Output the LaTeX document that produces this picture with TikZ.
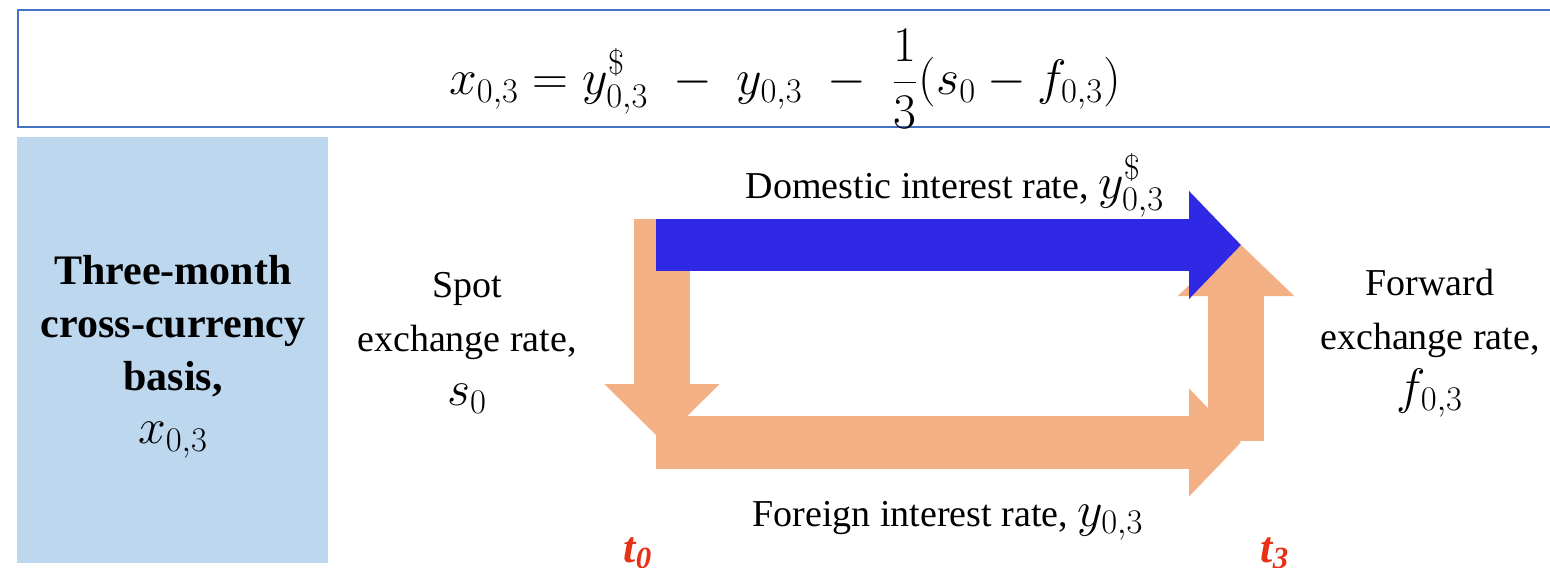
\documentclass[tikz,border=0pt]{standalone}
\usepackage{fontspec}
\setmainfont{Liberation Serif}
\usetikzlibrary{arrows.meta}
\definecolor{framebl}{RGB}{68,114,196}
\definecolor{boxbl}{RGB}{189,215,238}
\definecolor{peach}{RGB}{243,176,133}
\definecolor{deepbl}{RGB}{47,41,230}
\definecolor{tred}{RGB}{232,48,20}
\newcommand{\lmath}[1]{{\fontsize{24}{27}\selectfont$#1$}}
\newcommand{\bmath}[1]{{\fontsize{24}{26.5}\selectfont$#1$}}
\tikzset{
  lbl/.style={align=center, font=\fontsize{19}{27}\selectfont, inner sep=0pt},
  boldlbl/.style={align=center, font=\fontsize{21}{26.5}\selectfont\bfseries, inner sep=0pt},
  peacharrow/.style={draw=peach, line width=#1},
  bluearrow/.style={draw=deepbl, line width=#1},
  tlabel/.style={text=tred, font=\fontsize{22}{26}\selectfont\bfseries\itshape, inner sep=0pt, anchor=base}
}
\begin{document}
\begin{tikzpicture}[x=0.5pt,y=-0.5pt]
\useasboundingbox (0,0) rectangle (1550,567);
% formula box
\draw[framebl, line width=1.2pt] (1560,10) -- (18,10) -- (18,127) -- (1560,127);
\node (formula) at (785,79) {\fontsize{25}{30}\selectfont $\displaystyle x_{0,3} = y^{\$}_{0,3} \;-\; y_{0,3} \;-\; \frac{1}{3}(s_0 - f_{0,3})$};
% left box
\path[fill=boxbl] (17,137) rectangle (328,563);
\node[boldlbl] (basis) at (173,357) {Three-month\\cross-currency\\basis,\\\bmath{x_{0,3}}};
% arrows
\coordinate (Ltop) at (662,219);
\coordinate (Lbot) at (662,441);
\coordinate (Bstart) at (656,442.5);
\coordinate (Bend) at (1241,442.5);
\coordinate (Ubot) at (1236,441);
\coordinate (Utop) at (1236,240);
\coordinate (Dstart) at (656,245);
\coordinate (Dend) at (1241,245);
\draw[peacharrow=28pt, -{Triangle[length=28.5pt,width=56pt]}] (Ltop) -- (Lbot);
\draw[peacharrow=26.5pt, -{Triangle[length=26pt,width=52.5pt]}] (Bstart) -- (Bend);
\draw[peacharrow=28pt, -{Triangle[length=28pt,width=56.5pt]}] (Ubot) -- (Utop);
\draw[bluearrow=26pt, -{Triangle[length=26pt,width=52.5pt]}] (Dstart) -- (Dend);
% labels
\node[lbl] (spot) at (467,343) {Spot\\exchange rate,\\\lmath{s_0}};
\node[lbl] (fwd) at (1430,343) {Forward\\exchange rate,\\\lmath{f_{0,3}}};
\node[lbl, anchor=base] (dom) at (955,198) {Domestic interest rate, \lmath{y^{\$}_{0,3}}};
\node[lbl, anchor=base] (for) at (948,526) {Foreign interest rate, \lmath{y_{0,3}}};
\node[tlabel] (t0) at (638,562) {t\textsubscript{0}};
\node[tlabel] (t3) at (1275,562) {t\textsubscript{3}};
\end{tikzpicture}
\end{document}
